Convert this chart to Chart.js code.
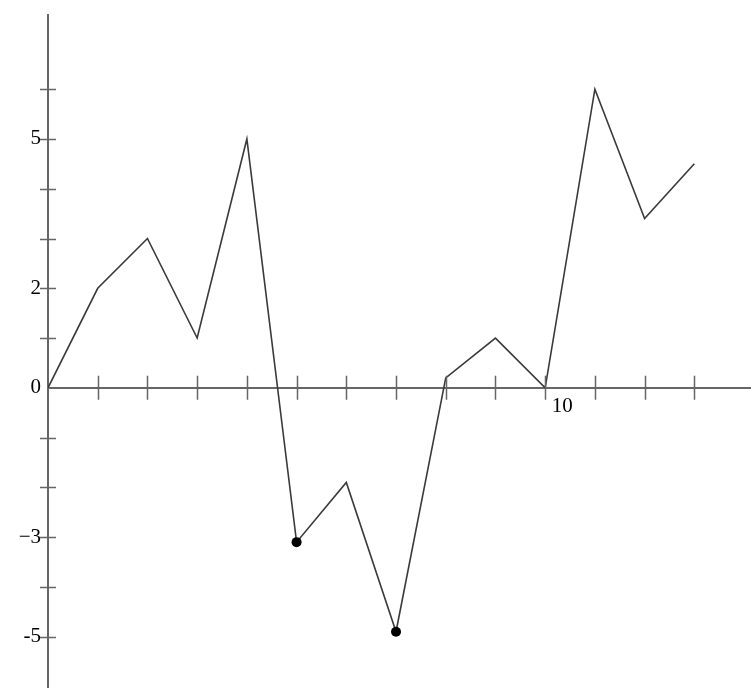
<!DOCTYPE html>
<html>
<head>
<meta charset="utf-8">
<script src="https://cdn.jsdelivr.net/npm/chart.js@4/dist/chart.umd.min.js"></script>
<style>
    html, body { margin: 0; padding: 0; background: #fff; }
    #wrap { width: 751px; height: 688px; }
</style>
</head>
<body>
<div id="wrap"><canvas id="lineChart" width="751" height="688"></canvas></div>
<script>
// values
const xValues = [0, 1, 2, 3, 4, 5, 6, 7, 8, 9, 10, 11, 12, 13];
const yValues = [0, 2, 3, 1, 5, -3.1, -1.9, -4.9, 0.2, 1, 0, 6, 3.4, 4.5];
const markedPoints = [5, 7]; // the two black dots
const xTickValues = [1, 2, 3, 4, 5, 6, 7, 8, 9, 10, 11, 12, 13];
const yTickValues = [-5, -4, -3, -2, -1, 0, 1, 2, 3, 4, 5, 6];
const xTickLabels = { 10: '10' };
const yTickLabels = { 5: '5', 2: '2', 0: '0', '-3': '\u22123', '-5': '-5' };

const axisColor = '#666';
const serif = 'Liberation Serif';

// tick marks that cross the axis on both sides
const crossTicks = {
    id: 'crossTicks',
    afterDraw(chart) {
        const { ctx, scales } = chart;
        const x0 = scales.x.getPixelForValue(0);
        const y0 = scales.y.getPixelForValue(0);
        ctx.save();
        ctx.strokeStyle = axisColor;
        ctx.lineWidth = 1.5;
        ctx.beginPath();
        xTickValues.forEach((v) => {
            const px = Math.round(scales.x.getPixelForValue(v)) + 0.5;
            ctx.moveTo(px, y0 - 12);
            ctx.lineTo(px, y0 + 12);
        });
        yTickValues.forEach((v) => {
            if (v === 0) return;
            const py = Math.round(scales.y.getPixelForValue(v)) + 0.5;
            ctx.moveTo(x0 - 8, py);
            ctx.lineTo(x0 + 8, py);
        });
        ctx.stroke();
        ctx.restore();
    },
};

// keep tick labels from shrinking the plot area
function noScalePadding(scale) {
    scale.paddingTop = 0;
    scale.paddingBottom = 0;
    scale.paddingLeft = 0;
    scale.paddingRight = 0;
}

const ctx = document.getElementById('lineChart').getContext('2d');
new Chart(ctx, {
    type: 'line',
    data: {
        datasets: [
            {
                data: xValues.map((x, i) => ({ x: x, y: yValues[i] })),
                borderColor: '#3a3a3a',
                borderWidth: 1.6,
                tension: 0,
                pointRadius: xValues.map((x, i) => (markedPoints.includes(i) ? 5 : 0)),
                pointBackgroundColor: '#000',
                pointBorderColor: '#000',
                pointBorderWidth: 0,
            },
        ],
    },
    options: {
        responsive: false,
        animation: false,
        layout: { padding: { left: 0, top: 15, right: 0, bottom: 0 } },
        plugins: {
            legend: { display: false },
            tooltip: { enabled: false },
        },
        scales: {
            x: {
                type: 'linear',
                position: { y: 0 },
                min: 0,
                max: 14.14,
                afterBuildTicks: (scale) => {
                    scale.ticks = xTickValues.map((v) => ({ value: v }));
                },
                afterFit: noScalePadding,
                grid: { display: true, drawOnChartArea: false, drawTicks: false },
                border: { display: true, color: axisColor, width: 2 },
                ticks: {
                    autoSkip: false,
                    maxRotation: 0,
                    padding: 6,
                    labelOffset: 17,
                    color: '#000',
                    font: { family: serif, size: 21 },
                    callback: (v) => xTickLabels[v] || '',
                },
            },
            y: {
                type: 'linear',
                position: 'left',
                min: -6.03,
                max: 7.49,
                afterBuildTicks: (scale) => {
                    scale.ticks = yTickValues.map((v) => ({ value: v }));
                },
                afterFit: (scale) => {
                    noScalePadding(scale);
                    scale.width = 48;
                },
                grid: { display: true, drawOnChartArea: false, drawTicks: false },
                border: { display: true, color: axisColor, width: 2 },
                ticks: {
                    autoSkip: false,
                    padding: 7,
                    color: '#000',
                    font: { family: serif, size: 21 },
                    callback: (v) => yTickLabels[v] || '',
                },
            },
        },
    },
    plugins: [crossTicks],
});
</script>
</body>
</html>
